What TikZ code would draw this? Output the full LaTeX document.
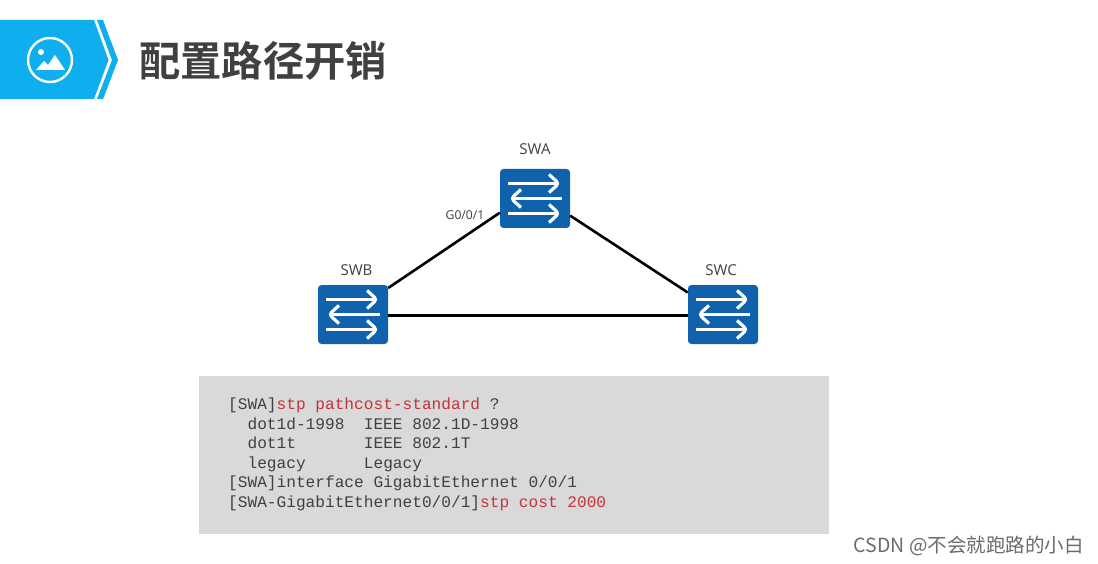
\documentclass[tikz,border=0pt]{standalone}
\usepackage{fontspec}
\setmainfont{Open Sans}
\newfontfamily\cjkbold{Noto Sans CJK SC Bold}
\newfontfamily\cjkreg{Noto Sans CJK SC}
\newfontfamily\codefont{Liberation Mono}
\definecolor{bannerblue}{HTML}{0FAEEF}
\definecolor{switchblue}{HTML}{1162AC}
\definecolor{codegray}{HTML}{D9D9D9}
\definecolor{codered}{HTML}{C4343A}
\definecolor{textgray}{HTML}{404040}
\tikzset{
  switchbox/.style={
    rectangle, rounded corners=3.5pt, fill=switchblue, draw=none,
    minimum width=70pt, minimum height=59pt, inner sep=0pt,
    path picture={
      \begin{scope}[shift={(path picture bounding box.center)}, draw=white, line width=3.2pt, line cap=butt, line join=miter]
        \draw (-27,15) -- (23,15);
        \draw (14,6) -- (24,15) -- (14,24);
        \draw (-27,-15) -- (23,-15);
        \draw (14,-24) -- (24,-15) -- (14,-6);
        \draw (27,0) -- (-23,0);
        \draw (-14,-9) -- (-24,0) -- (-14,9);
      \end{scope}
    }},
  link/.style={draw=black, line width=2.6pt},
  devlabel/.style={font=\fontsize{15}{17}\selectfont, text=textgray, inner sep=0pt},
}
\begin{document}
\begin{tikzpicture}[x=1pt,y=-1pt]
\useasboundingbox (0,0) rectangle (1098,564);
\fill[white] (0,0) rectangle (1098,564);
% banner
\fill[bannerblue] (0,20) -- (94,20) -- (108.5,60) -- (94,99) -- (0,99) -- cycle;
\fill[bannerblue] (97,20) -- (103,20) -- (118,60) -- (103,99) -- (97,99) -- (112,60) -- cycle;
\draw[white, line width=2.4pt] (50,60) circle[radius=22];
\fill[white] (41,52) circle[radius=3];
\fill[white] (36,70) -- (44,61) -- (48,65) -- (55,55) -- (65,70) -- cycle;
\node[anchor=west, inner sep=0pt, text=textgray, font=\cjkbold\fontsize{41.3}{41}\selectfont] (title) at (139,61) {配置路径开销};
% switches
\node[switchbox] (swa) at (535,198.5) {};
\node[switchbox] (swb) at (353,314.5) {};
\node[switchbox] (swc) at (723,314.5) {};
\draw[link] (swb.37) -- (swa.202.5);
\draw[link] (swa.-26.6) -- (swc.148.4);
\draw[link] (swb.-2.5) -- (swc.182.5);
\node[devlabel] (la) at (535,149.5) {SWA};
\node[devlabel] (lb) at (356.5,270.5) {SWB};
\node[devlabel] (lc) at (721,270.5) {SWC};
\node[devlabel, font=\fontsize{12.2}{14}\selectfont] (port) at (465,215) {G0/0/1};
% code
\fill[codegray] (199,376) rectangle (829,534);
\node[anchor=north west, inner sep=0pt, align=left, text=textgray,
      font=\codefont\fontsize{16.15}{19.6}\selectfont] (code) at (228,397.5) {%
{[}SWA]\textcolor{codered}{stp pathcost-standard} ?\\
~~dot1d-1998~~IEEE 802.1D-1998\\
~~dot1t~~~~~~~IEEE 802.1T\\
~~legacy~~~~~~Legacy\\
{[}SWA]interface GigabitEthernet 0/0/1\\
{[}SWA-GigabitEthernet0/0/1]\textcolor{codered}{stp cost 2000}};
% watermark
\node[anchor=east, inner sep=0pt, text=black!58, font=\cjkreg\fontsize{19.5}{21}\selectfont] (mark) at (1084,546) {CSDN @不会就跑路的小白};
\end{tikzpicture}
\end{document}
